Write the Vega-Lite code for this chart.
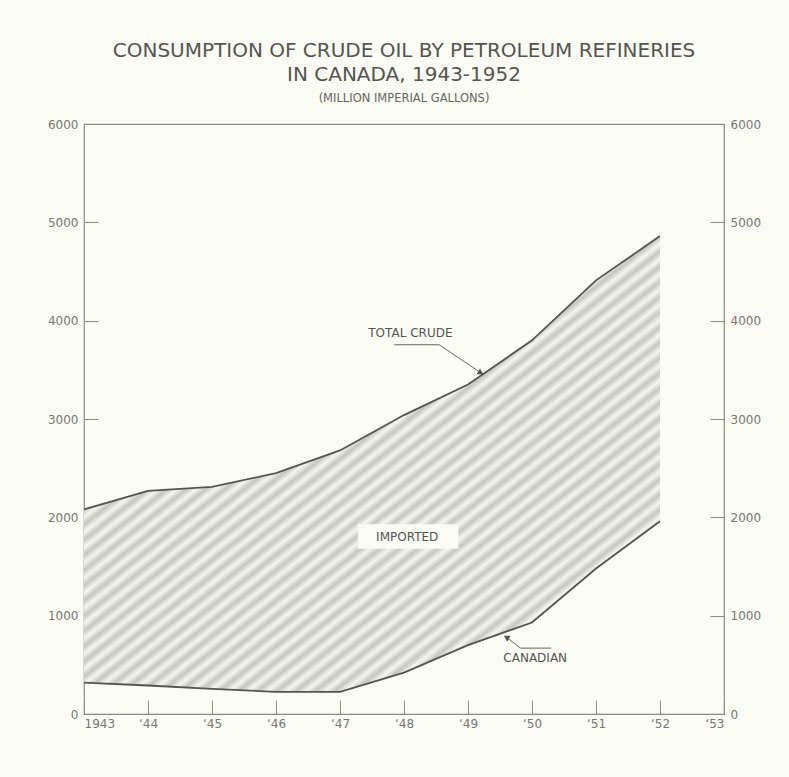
{
  "$schema": "https://vega.github.io/schema/vega-lite/v6.json",
  "width": 640,
  "height": 590,
  "autosize": {"type": "none"},
  "padding": {"left": 84, "top": 124, "right": 65, "bottom": 63},
  "background": "#fbfbf6",
  "title": {
    "text": ["CONSUMPTION OF CRUDE OIL BY PETROLEUM REFINERIES", "IN CANADA, 1943-1952"],
    "subtitle": "(MILLION IMPERIAL GALLONS)",
    "anchor": "middle",
    "font": "DejaVu Sans",
    "fontSize": 20,
    "fontWeight": "normal",
    "color": "#555550",
    "lineHeight": 24,
    "subtitleFont": "DejaVu Sans",
    "subtitleFontSize": 11.5,
    "subtitleColor": "#666660",
    "subtitlePadding": 8,
    "offset": 14
  },
  "datasets": {
    "series": [
      {"year": 1943, "total": 2080, "canadian": 320},
      {"year": 1944, "total": 2270, "canadian": 290},
      {"year": 1945, "total": 2310, "canadian": 255},
      {"year": 1946, "total": 2450, "canadian": 225},
      {"year": 1947, "total": 2680, "canadian": 225},
      {"year": 1948, "total": 3040, "canadian": 420},
      {"year": 1949, "total": 3350, "canadian": 700},
      {"year": 1950, "total": 3800, "canadian": 930},
      {"year": 1951, "total": 4410, "canadian": 1480},
      {"year": 1952, "total": 4860, "canadian": 1960}
    ],
    "notes": [
      {"x": 1948.1, "y": 3870, "label": "TOTAL CRUDE"},
      {"x": 1948.05, "y": 1800, "label": "IMPORTED"},
      {"x": 1950.05, "y": 570, "label": "CANADIAN"}
    ],
    "leaders": [
      {"x": 1947.85, "y": 3755, "x2": 1948.55, "y2": 3755},
      {"x": 1948.55, "y": 3755, "x2": 1949.2, "y2": 3470},
      {"x": 1950.3, "y": 670, "x2": 1949.82, "y2": 670},
      {"x": 1949.82, "y": 670, "x2": 1949.58, "y2": 790}
    ],
    "boxes": [
      {"x": 1947.28, "x2": 1948.85, "y": 1680, "y2": 1930}
    ]
  },
  "layer": [
    {
      "layer": [
        {
          "data": {"name": "series"},
          "mark": {
            "type": "area",
            "fill": {
              "gradient": "linear", "x1": 0, "y1": 0, "x2": 1, "y2": 1,
              "stops": [
                {"offset": 0, "color": "#c6c6c0"}, {"offset": 0.0083, "color": "#f6f6f1"}, {"offset": 0.0167, "color": "#c6c6c0"}, {"offset": 0.025, "color": "#f6f6f1"}, {"offset": 0.0333, "color": "#c6c6c0"}, {"offset": 0.0417, "color": "#f6f6f1"}, {"offset": 0.05, "color": "#c6c6c0"}, {"offset": 0.0583, "color": "#f6f6f1"}, {"offset": 0.0667, "color": "#c6c6c0"}, {"offset": 0.075, "color": "#f6f6f1"}, {"offset": 0.0833, "color": "#c6c6c0"}, {"offset": 0.0917, "color": "#f6f6f1"},
                {"offset": 0.1, "color": "#c6c6c0"}, {"offset": 0.1083, "color": "#f6f6f1"}, {"offset": 0.1167, "color": "#c6c6c0"}, {"offset": 0.125, "color": "#f6f6f1"}, {"offset": 0.1333, "color": "#c6c6c0"}, {"offset": 0.1417, "color": "#f6f6f1"}, {"offset": 0.15, "color": "#c6c6c0"}, {"offset": 0.1583, "color": "#f6f6f1"}, {"offset": 0.1667, "color": "#c6c6c0"}, {"offset": 0.175, "color": "#f6f6f1"}, {"offset": 0.1833, "color": "#c6c6c0"}, {"offset": 0.1917, "color": "#f6f6f1"},
                {"offset": 0.2, "color": "#c6c6c0"}, {"offset": 0.2083, "color": "#f6f6f1"}, {"offset": 0.2167, "color": "#c6c6c0"}, {"offset": 0.225, "color": "#f6f6f1"}, {"offset": 0.2333, "color": "#c6c6c0"}, {"offset": 0.2417, "color": "#f6f6f1"}, {"offset": 0.25, "color": "#c6c6c0"}, {"offset": 0.2583, "color": "#f6f6f1"}, {"offset": 0.2667, "color": "#c6c6c0"}, {"offset": 0.275, "color": "#f6f6f1"}, {"offset": 0.2833, "color": "#c6c6c0"}, {"offset": 0.2917, "color": "#f6f6f1"},
                {"offset": 0.3, "color": "#c6c6c0"}, {"offset": 0.3083, "color": "#f6f6f1"}, {"offset": 0.3167, "color": "#c6c6c0"}, {"offset": 0.325, "color": "#f6f6f1"}, {"offset": 0.3333, "color": "#c6c6c0"}, {"offset": 0.3417, "color": "#f6f6f1"}, {"offset": 0.35, "color": "#c6c6c0"}, {"offset": 0.3583, "color": "#f6f6f1"}, {"offset": 0.3667, "color": "#c6c6c0"}, {"offset": 0.375, "color": "#f6f6f1"}, {"offset": 0.3833, "color": "#c6c6c0"}, {"offset": 0.3917, "color": "#f6f6f1"},
                {"offset": 0.4, "color": "#c6c6c0"}, {"offset": 0.4083, "color": "#f6f6f1"}, {"offset": 0.4167, "color": "#c6c6c0"}, {"offset": 0.425, "color": "#f6f6f1"}, {"offset": 0.4333, "color": "#c6c6c0"}, {"offset": 0.4417, "color": "#f6f6f1"}, {"offset": 0.45, "color": "#c6c6c0"}, {"offset": 0.4583, "color": "#f6f6f1"}, {"offset": 0.4667, "color": "#c6c6c0"}, {"offset": 0.475, "color": "#f6f6f1"}, {"offset": 0.4833, "color": "#c6c6c0"}, {"offset": 0.4917, "color": "#f6f6f1"},
                {"offset": 0.5, "color": "#c6c6c0"}, {"offset": 0.5083, "color": "#f6f6f1"}, {"offset": 0.5167, "color": "#c6c6c0"}, {"offset": 0.525, "color": "#f6f6f1"}, {"offset": 0.5333, "color": "#c6c6c0"}, {"offset": 0.5417, "color": "#f6f6f1"}, {"offset": 0.55, "color": "#c6c6c0"}, {"offset": 0.5583, "color": "#f6f6f1"}, {"offset": 0.5667, "color": "#c6c6c0"}, {"offset": 0.575, "color": "#f6f6f1"}, {"offset": 0.5833, "color": "#c6c6c0"}, {"offset": 0.5917, "color": "#f6f6f1"},
                {"offset": 0.6, "color": "#c6c6c0"}, {"offset": 0.6083, "color": "#f6f6f1"}, {"offset": 0.6167, "color": "#c6c6c0"}, {"offset": 0.625, "color": "#f6f6f1"}, {"offset": 0.6333, "color": "#c6c6c0"}, {"offset": 0.6417, "color": "#f6f6f1"}, {"offset": 0.65, "color": "#c6c6c0"}, {"offset": 0.6583, "color": "#f6f6f1"}, {"offset": 0.6667, "color": "#c6c6c0"}, {"offset": 0.675, "color": "#f6f6f1"}, {"offset": 0.6833, "color": "#c6c6c0"}, {"offset": 0.6917, "color": "#f6f6f1"},
                {"offset": 0.7, "color": "#c6c6c0"}, {"offset": 0.7083, "color": "#f6f6f1"}, {"offset": 0.7167, "color": "#c6c6c0"}, {"offset": 0.725, "color": "#f6f6f1"}, {"offset": 0.7333, "color": "#c6c6c0"}, {"offset": 0.7417, "color": "#f6f6f1"}, {"offset": 0.75, "color": "#c6c6c0"}, {"offset": 0.7583, "color": "#f6f6f1"}, {"offset": 0.7667, "color": "#c6c6c0"}, {"offset": 0.775, "color": "#f6f6f1"}, {"offset": 0.7833, "color": "#c6c6c0"}, {"offset": 0.7917, "color": "#f6f6f1"},
                {"offset": 0.8, "color": "#c6c6c0"}, {"offset": 0.8083, "color": "#f6f6f1"}, {"offset": 0.8167, "color": "#c6c6c0"}, {"offset": 0.825, "color": "#f6f6f1"}, {"offset": 0.8333, "color": "#c6c6c0"}, {"offset": 0.8417, "color": "#f6f6f1"}, {"offset": 0.85, "color": "#c6c6c0"}, {"offset": 0.8583, "color": "#f6f6f1"}, {"offset": 0.8667, "color": "#c6c6c0"}, {"offset": 0.875, "color": "#f6f6f1"}, {"offset": 0.8833, "color": "#c6c6c0"}, {"offset": 0.8917, "color": "#f6f6f1"},
                {"offset": 0.9, "color": "#c6c6c0"}, {"offset": 0.9083, "color": "#f6f6f1"}, {"offset": 0.9167, "color": "#c6c6c0"}, {"offset": 0.925, "color": "#f6f6f1"}, {"offset": 0.9333, "color": "#c6c6c0"}, {"offset": 0.9417, "color": "#f6f6f1"}, {"offset": 0.95, "color": "#c6c6c0"}, {"offset": 0.9583, "color": "#f6f6f1"}, {"offset": 0.9667, "color": "#c6c6c0"}, {"offset": 0.975, "color": "#f6f6f1"}, {"offset": 0.9833, "color": "#c6c6c0"}, {"offset": 0.9917, "color": "#f6f6f1"},
                {"offset": 1, "color": "#c6c6c0"}
              ]
            }
          },
          "encoding": {
            "x": {"field": "year", "type": "quantitative", "scale": {"domain": [1943, 1953], "nice": false, "zero": false},
                  "axis": {"values": [1943, 1944, 1945, 1946, 1947, 1948, 1949, 1950, 1951, 1952, 1953], "format": "d",
                           "labelExpr": "datum.value == 1943 ? '1943' : '‘' + substring(datum.label, 2)", "title": null, "labelPadding": 18}},
            "y": {"field": "total", "type": "quantitative", "scale": {"domain": [0, 6000], "nice": false},
                  "axis": {"orient": "left", "values": [0, 1000, 2000, 3000, 4000, 5000, 6000], "format": "d", "title": null}},
            "y2": {"field": "canadian"}
          }
        },
        {
          "data": {"name": "boxes"},
          "mark": {"type": "rect", "fill": "#fbfbf6"},
          "encoding": {
            "x": {"field": "x", "type": "quantitative"},
            "x2": {"field": "x2"},
            "y": {"field": "y", "type": "quantitative"},
            "y2": {"field": "y2"}
          }
        },
        {
          "data": {"name": "series"},
          "mark": {"type": "line", "color": "#55554f", "strokeWidth": 1.8},
          "encoding": {
            "x": {"field": "year", "type": "quantitative"},
            "y": {"field": "total", "type": "quantitative"}
          }
        },
        {
          "data": {"name": "leaders"},
          "mark": {"type": "rule", "color": "#666660", "strokeWidth": 1},
          "encoding": {
            "x": {"field": "x", "type": "quantitative"},
            "x2": {"field": "x2"},
            "y": {"field": "y", "type": "quantitative"},
            "y2": {"field": "y2"}
          }
        },
        {
          "data": {"values": [{"x": 1949.2, "y": 3470}]},
          "mark": {"type": "point", "shape": "triangle-up", "angle": 120, "filled": true, "color": "#55554f", "size": 45, "opacity": 1},
          "encoding": {
            "x": {"field": "x", "type": "quantitative"},
            "y": {"field": "y", "type": "quantitative"}
          }
        },
        {
          "data": {"values": [{"x": 1949.6, "y": 780}]},
          "mark": {"type": "point", "shape": "triangle-up", "angle": 300, "filled": true, "color": "#55554f", "size": 45, "opacity": 1},
          "encoding": {
            "x": {"field": "x", "type": "quantitative"},
            "y": {"field": "y", "type": "quantitative"}
          }
        },
        {
          "data": {"name": "notes"},
          "mark": {"type": "text", "font": "DejaVu Sans", "fontSize": 12, "color": "#555550", "align": "center", "baseline": "middle"},
          "encoding": {
            "x": {"field": "x", "type": "quantitative"},
            "y": {"field": "y", "type": "quantitative"},
            "text": {"field": "label"}
          }
        }
      ]
    },
    {
      "data": {"name": "series"},
      "mark": {"type": "line", "color": "#55554f", "strokeWidth": 1.8},
      "encoding": {
        "x": {"field": "year", "type": "quantitative"},
        "y": {"field": "canadian", "type": "quantitative", "scale": {"domain": [0, 6000], "nice": false},
              "axis": {"orient": "right", "values": [0, 1000, 2000, 3000, 4000, 5000, 6000], "format": "d", "title": null}}
      }
    }
  ],
  "resolve": {"scale": {"y": "independent"}},
  "config": {
    "view": {"stroke": "#8a8a85", "strokeWidth": 1.2},
    "axis": {
      "domain": false,
      "grid": false,
      "labelFont": "DejaVu Sans",
      "labelFontSize": 12,
      "labelColor": "#777772",
      "tickColor": "#8a8a85",
      "tickSize": -14,
      "labelPadding": 20
    }
  }
}
